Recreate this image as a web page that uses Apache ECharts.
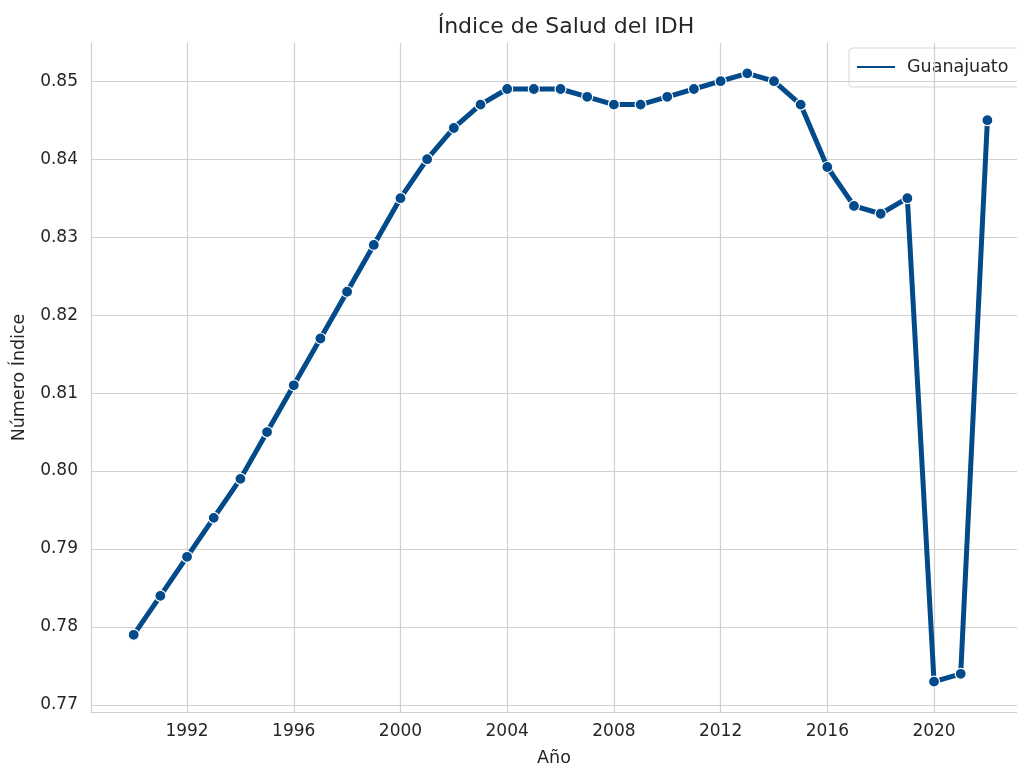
<!DOCTYPE html>
<html>
<head>
<meta charset="utf-8">
<script src="https://cdn.jsdelivr.net/npm/echarts@6/dist/echarts.min.js"></script>
<style>
  html, body { margin: 0; padding: 0; background: #fff; }
  #main { width: 1017px; height: 766px; }
</style>
</head>
<body>
<div id="main"></div>
<script>
// datos del índice de salud (IDH) de Guanajuato
var years = [1990, 1991, 1992, 1993, 1994, 1995, 1996, 1997, 1998, 1999, 2000,
    2001, 2002, 2003, 2004, 2005, 2006, 2007, 2008, 2009, 2010, 2011, 2012,
    2013, 2014, 2015, 2016, 2017, 2018, 2019, 2020, 2021, 2022]
var salud = [0.779, 0.784, 0.789, 0.794, 0.799, 0.805, 0.811, 0.817, 0.823, 0.829, 0.835,
    0.840, 0.844, 0.847, 0.849, 0.849, 0.849, 0.848, 0.847, 0.847, 0.848, 0.849, 0.850,
    0.851, 0.850, 0.847, 0.839, 0.834, 0.833, 0.835, 0.773, 0.774, 0.845]
var xTicks = [1992, 1996, 2000, 2004, 2008, 2012, 2016, 2020]
var yTicks = [0.77, 0.78, 0.79, 0.80, 0.81, 0.82, 0.83, 0.84, 0.85]

var chart = echarts.init(document.getElementById('main'), null, { renderer: 'canvas' })
var txt = '#262626'
var gridColor = '#d0d0d0'

var option = {
    animation: false,
    textStyle: { fontFamily: 'DejaVu Sans' },
    title: {
        text: 'Índice de Salud del IDH',
        left: 561, top: 11, textAlign: 'center',
        textStyle: { fontSize: 22, fontWeight: 'normal', color: txt }
    },
    legend: {
        left: 849, top: 48,
        padding: [10, 12, 11, 6],
        itemWidth: 40, itemHeight: 4,
        itemGap: 8,
        borderColor: '#d6d6d6', borderWidth: 1, borderRadius: 4,
        backgroundColor: 'rgba(255,255,255,0.85)',
        icon: 'rect',
        textStyle: { fontSize: 17.5, color: txt, padding: [0, 0, 0, 6] },
        data: ['Guanajuato']
    },
    grid: { left: 91, right: 0, top: 43, bottom: 54, outerBoundsMode: 'none' },
    xAxis: {
        type: 'value',
        min: 1988.4, max: 2023.11,
        name: 'Año', nameLocation: 'middle', nameGap: 37,
        nameTextStyle: { fontSize: 17.5, color: txt },
        axisLine: { show: true, lineStyle: { color: gridColor, width: 1.2 } },
        axisTick: { show: false, customValues: xTicks },
        axisLabel: { customValues: xTicks, fontSize: 17, color: txt, margin: 11,
            formatter: function (v) { return String(v) } },
        splitLine: { show: false }
    },
    yAxis: {
        type: 'value',
        min: 0.7691, max: 0.8549,
        name: 'Número Índice', nameLocation: 'middle', nameGap: 63,
        nameTextStyle: { fontSize: 17.5, color: txt },
        axisLine: { show: true, lineStyle: { color: gridColor, width: 1.2 } },
        axisTick: { show: false, customValues: yTicks },
        axisLabel: { customValues: yTicks, fontSize: 17, color: txt, margin: 13,
            formatter: function (v) { return v.toFixed(2) } },
        splitLine: { show: false }
    },
    series: [
        {
            name: 'Guanajuato',
            type: 'line',
            data: years.map(function (y, i) { return [y, salud[i]] }),
            symbol: 'circle',
            symbolSize: 11,
            itemStyle: { color: '#024a89', borderColor: '#fff', borderWidth: 1.2 },
            lineStyle: { color: '#024a89', width: 5 },
            z: 5,
            markLine: {
                silent: true, symbol: 'none', label: { show: false },
                lineStyle: { color: gridColor, width: 1.2, type: 'solid' },
                data: xTicks.map(function (v) { return { xAxis: v } })
                    .concat(yTicks.map(function (v) { return { yAxis: v } }))
                    .concat([{ yAxis: 0.8549 }])
            }
        }
    ]
}
chart.setOption(option)
</script>
</body>
</html>
